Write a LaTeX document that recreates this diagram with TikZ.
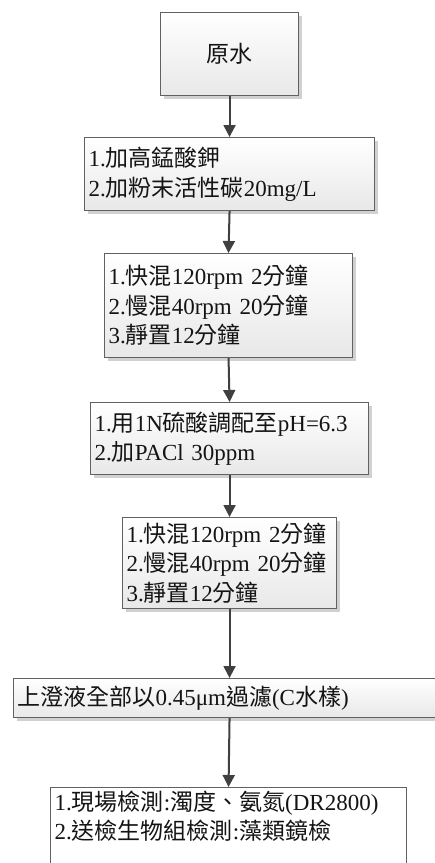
\documentclass[tikz,border=0pt]{standalone}
\usepackage{fontspec}
\setmainfont{Liberation Serif}
\newfontfamily\cjk{Noto Sans CJK TC}
\newcommand\zh[1]{{\cjk #1}}
\usetikzlibrary{arrows.meta,shadows}
\begin{document}
\begin{tikzpicture}[x=1pt,y=-1pt,
  box/.style={draw=black!62, line width=1.1pt, top color=white, bottom color=black!9,
    drop shadow={shadow xshift=3pt, shadow yshift=-3pt, fill=black!30, opacity=0.6},
    anchor=north west, inner xsep=4pt, inner ysep=0pt, align=left, text=black!92,
    font=\fontsize{23}{29.5}\selectfont},
  plainbox/.style={draw=black!62, line width=1.1pt, fill=white, anchor=north west,
    inner xsep=4pt, inner ysep=3pt, text=black!92, font=\fontsize{23}{29.5}\selectfont},
  flow/.style={draw=black!75, line width=2pt, -{Triangle[length=12pt,width=12pt]}}]
\useasboundingbox (0,0) rectangle (435,863);
\node[box, text width=130pt, minimum height=83pt, align=center] (n1) at (160,12) {\zh{原水}};
\node[box, text width=282pt, minimum height=73pt] (n2) at (84,137)
  {1.\zh{加高錳酸鉀}\\2.\zh{加粉末活性碳}20mg/L};
\node[box, text width=240pt, minimum height=104pt] (n3) at (104,253)
  {1.\zh{快混}120rpm 2\zh{分鐘}\\2.\zh{慢混}40rpm 20\zh{分鐘}\\3.\zh{靜置}12\zh{分鐘}};
\node[box, text width=270pt, minimum height=72pt] (n4) at (90,402)
  {1.\zh{用}1N\zh{硫酸調配至}pH=6.3\\2.\zh{加}PACl 30ppm};
\node[box, text width=206pt, minimum height=91pt] (n5) at (122,517)
  {1.\zh{快混}120rpm~2\zh{分鐘}\\2.\zh{慢混}40rpm~20\zh{分鐘}\\3.\zh{靜置}12\zh{分鐘}};
\node[box, text width=424pt, minimum height=39pt] (n6) at (13,678)
  {\zh{上澄液全部以}0.45μm\zh{過濾}(C\zh{水樣})};
\node[plainbox] (n7) at (50,787)
  {\parbox[c][94pt][t]{348pt}{\raggedright 1.\zh{現場檢測}:\zh{濁度、氨氮}(DR2800)\\2.\zh{送檢生物組檢測}:\zh{藻類鏡檢}}};
\draw[flow] (n1.south) -- (n2.north);
\draw[flow] (n2.south) -- (n3.north);
\draw[flow] (n3.south) -- (n4.north);
\draw[flow] (n4.south) -- (n5.north);
\draw[flow] (n5.south) -- (n6.north);
\draw[flow] (n6.south) -- (n7.north);
\end{tikzpicture}
\end{document}
